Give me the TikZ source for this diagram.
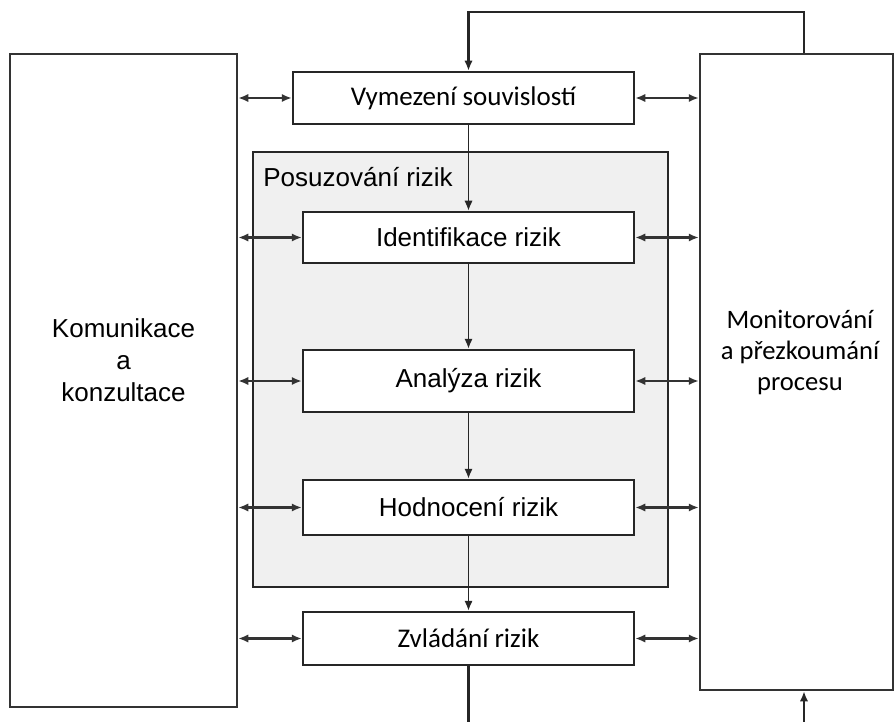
\documentclass[tikz,border=0pt]{standalone}
\usepackage{fontspec}
\setmainfont{Liberation Sans}
\newfontfamily\calibri{Carlito}
\usetikzlibrary{arrows.meta}

\begin{document}
\begin{tikzpicture}[
    x=0.5pt, y=-0.5pt,
    >={Latex[length=5pt,width=4.2pt]},
    every node/.style={
        font=\fontsize{13}{16}\selectfont,
    },
    stepbox/.style={
        draw=black!85,
        line width=1.25pt,
        fill=white,
        align=center,
        inner sep=0pt,
    },
    bigbox/.style={
        stepbox,
        draw=black!80,
    },
    flow/.style={
        ->,
        line width=0.9pt,
        draw=black!85,
    },
    link/.style={
        <->,
        line width=1.1pt,
        draw=black!80,
    },
    ]
    \useasboundingbox (0,0) rectangle (895,722);
    % outer boxes
    \node [bigbox, name=kom, at={(123.5,380.5)},
        minimum width=113.5pt, minimum height=326.5pt] {};
    \node [at={(123.5,360)}, align=center] {Komunikace\\a\\konzultace};
    \node [bigbox, name=mon, at={(796.5,372)},
        minimum width=96.5pt, minimum height=318pt] {};
    \node [at={(800,352)}, align=center, font=\calibri\fontsize{13.3}{15.5}\selectfont]
        {Monitorování\\a přezkoumání\\procesu};
    % assessment frame
    \node [draw=black!85, line width=1.25pt, fill=black!6, name=pos, at={(460.5,369.5)},
        minimum width=207.5pt, minimum height=217.5pt] {};
    \node [anchor=base west, inner sep=0pt, at={(263,187)}] {Posuzování rizik};
    % process steps
    \node [stepbox, name=vym, at={(463.5,98)},
        minimum width=170.5pt, minimum height=26pt,
        font=\calibri\fontsize{13.5}{16}\selectfont] {Vymezení souvislostí};
    \node [stepbox, name=idf, at={(468.5,237.5)},
        minimum width=165.5pt, minimum height=25.5pt] {Identifikace rizik};
    \node [stepbox, name=ana, at={(468.5,381)},
        minimum width=165.5pt, minimum height=31pt] {Analýza rizik};
    \node [stepbox, name=hod, at={(468.5,507.5)},
        minimum width=165.5pt, minimum height=27.5pt] {Hodnocení rizik};
    \node [stepbox, name=zvl, at={(468.5,638.5)},
        minimum width=165.5pt, minimum height=26.5pt,
        font=\calibri\fontsize{13.5}{16}\selectfont] {Zvládání rizik};
    \coordinate (loop) at (804,12);
    \coordinate (out) at (469,722);
    \coordinate (in) at (804,722);
    \draw [flow, line width=1.1pt] (mon.north -| loop) -- (loop) -| (idf.north |- vym.north);
    \draw [flow] (idf.north |- vym.south) -- (idf.north);
    \draw [flow] (idf) -- (ana);
    \draw [flow] (ana) -- (hod);
    \draw [flow] (hod) -- (zvl);
    \draw [flow, -, line width=1.1pt] (zvl.south) -- (zvl.south |- out);
    \draw [flow, line width=1.1pt] (in) -- (in |- mon.south);
    \foreach \b in {vym,idf,ana,hod,zvl} {
        \draw [link] (kom.east |- \b.west) -- (\b.west);
        \draw [link] (\b.east) -- (mon.west |- \b.east);
    }
\end{tikzpicture}
\end{document}
